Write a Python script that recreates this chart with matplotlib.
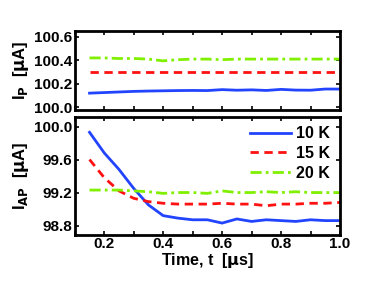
import matplotlib.pyplot as plt
import numpy as np
from matplotlib.ticker import MultipleLocator

plt.rcParams['font.family'] = ['Liberation Sans', 'DejaVu Sans']
plt.rcParams['font.weight'] = 'bold'
plt.rcParams['font.size'] = 11

# Data
t = [0.15, 0.2, 0.25, 0.3, 0.35, 0.4, 0.45, 0.5, 0.55, 0.6,
     0.65, 0.7, 0.75, 0.8, 0.85, 0.9, 0.95, 1.0]
labels = ['10 K', '15 K', '20 K']

ip_10 = [100.12, 100.125, 100.13, 100.135, 100.138, 100.14, 100.142, 100.143, 100.142, 100.15,
         100.145, 100.148, 100.143, 100.152, 100.146, 100.145, 100.155, 100.155]
ip_15 = [100.3, 100.3, 100.3, 100.3, 100.3, 100.3, 100.3, 100.3, 100.3, 100.3,
         100.3, 100.3, 100.3, 100.3, 100.3, 100.3, 100.3, 100.3]
ip_20 = [100.42, 100.42, 100.415, 100.415, 100.41, 100.395, 100.405, 100.41, 100.41, 100.405,
         100.41, 100.41, 100.41, 100.41, 100.41, 100.41, 100.41, 100.41]

iap_10 = [99.93, 99.68, 99.48, 99.25, 99.05, 98.92, 98.89, 98.87, 98.87, 98.83,
          98.88, 98.85, 98.87, 98.86, 98.85, 98.87, 98.86, 98.86]
iap_15 = [99.6, 99.38, 99.22, 99.13, 99.09, 99.07, 99.06, 99.06, 99.06, 99.07,
          99.06, 99.06, 99.04, 99.06, 99.06, 99.07, 99.07, 99.08]
iap_20 = [99.23, 99.23, 99.23, 99.22, 99.21, 99.19, 99.2, 99.2, 99.19, 99.22,
          99.2, 99.2, 99.21, 99.2, 99.21, 99.2, 99.2, 99.2]

colors = ['#2244ff', '#ff1111', '#80f000']
styles = ['-', (0, (3, 2)), (0, (4, 1.5, 1, 1.5))]

fig = plt.figure(figsize=(3.74, 2.81), dpi=100)
ax1 = fig.add_axes([0.2, 0.61, 0.709, 0.28])
ax2 = fig.add_axes([0.2, 0.165, 0.709, 0.42])

for ys, c, ls, lab in zip([ip_10, ip_15, ip_20], colors, styles, labels):
    ax1.plot(t, ys, color=c, ls=ls, lw=2, label=lab)
for ys, c, ls, lab in zip([iap_10, iap_15, iap_20], colors, styles, labels):
    ax2.plot(t, ys, color=c, ls=ls, lw=2, label=lab)

ax1.set_ylim(99.98, 100.65)
ax1.set_yticks([100.0, 100.2, 100.4, 100.6])
ax1.set_yticklabels(['100.0', '100.2', '100.4', '100.6'])
ax2.set_ylim(98.69, 100.12)
ax2.set_yticks([98.8, 99.2, 99.6, 100.0])
ax2.set_yticklabels(['98.8', '99.2', '99.6', '100.0'])

for ax in (ax1, ax2):
    ax.set_xlim(0.1, 1.0)
    ax.xaxis.set_major_locator(MultipleLocator(0.1))
    ax.tick_params(direction='in', top=True, right=True, length=3, width=1.2, pad=2)
    for s in ax.spines.values():
        s.set_linewidth(2)

ax1.set_xticklabels([])
ax2.set_xticks([0.1, 0.2, 0.3, 0.4, 0.5, 0.6, 0.7, 0.8, 0.9, 1.0])
ax2.set_xticklabels(['', '0.2', '', '0.4', '', '0.6', '', '0.8', '', '1.0'])

ax1.set_ylabel(r'I$_\mathbf{P}$  [$\mathbf{\mu}$A]', fontweight='bold', labelpad=2, fontsize=12)
ax2.set_ylabel(r'I$_\mathbf{AP}$  [$\mathbf{\mu}$A]', fontweight='bold', labelpad=2, fontsize=12)
ax2.set_xlabel(r'Time, t  [$\mathbf{\mu}$s]', fontweight='bold', labelpad=0, fontsize=11.5)

ax2.legend(loc='upper right', frameon=False, handlelength=2.6, handletextpad=0.3,
           labelspacing=0.3, borderaxespad=0.2, fontsize=11.5)

fig.savefig('out.png', dpi=100)
